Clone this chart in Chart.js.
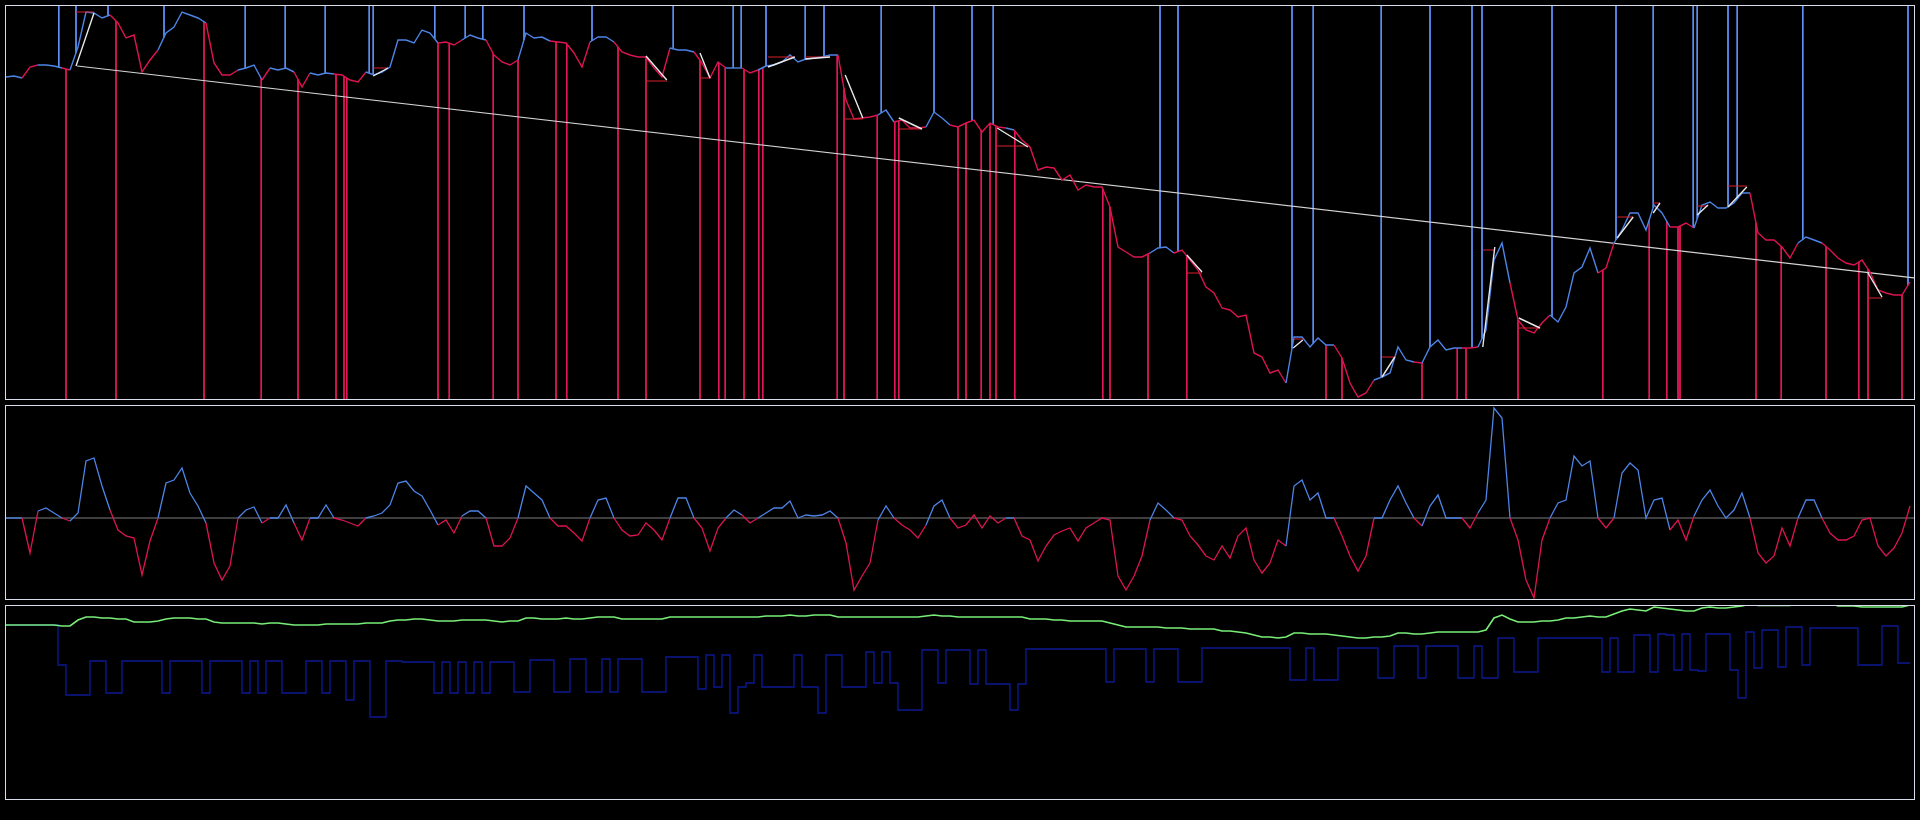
<!DOCTYPE html>
<html><head><meta charset="utf-8">
<script src="https://cdn.jsdelivr.net/npm/chart.js@4.4.0/dist/chart.umd.min.js"></script>
<style>
html,body{margin:0;padding:0;background:#000;width:1920px;height:820px;overflow:hidden;}
.panel{position:absolute;left:5px;width:1908px;border:1px solid #d6dcea;}
.panel canvas{display:block;}
</style></head><body>
<div class="panel" style="top:5px;height:393px"><canvas id="c1" width="1908" height="393"></canvas></div>
<div class="panel" style="top:405px;height:193px"><canvas id="c2" width="1908" height="193"></canvas></div>
<div class="panel" style="top:605px;height:193px"><canvas id="c3" width="1908" height="193"></canvas></div>
<script>
// ---- price (close) per bar ----
const price = [
1323,1324,1322,1333,1335,1335,1334,1332,1330,1353,
1388,1387,1382,1385,1377,1362,1365,1328,1340,1350,
1367,1373,1388,1385,1382,1377,1337,1325,1325,1330,
1332,1335,1320,1332,1330,1332,1328,1313,1327,1325,
1327,1326,1325,1320,1318,1328,1325,1328,1333,1360,
1360,1357,1370,1367,1357,1358,1355,1360,1365,1362,
1360,1345,1338,1335,1340,1367,1362,1363,1359,1358,
1357,1347,1333,1358,1363,1363,1358,1348,1345,1343,
1343,1332,1323,1352,1350,1350,1348,1337,1322,1338,
1332,1332,1332,1327,1330,1334,1335,1338,1345,1338,
1341,1342,1343,1345,1345,1300,1281,1282,1283,1285,
1290,1278,1280,1272,1272,1273,1288,1282,1275,1273,
1277,1280,1268,1277,1273,1272,1270,1260,1253,1230,
1233,1232,1220,1225,1210,1215,1213,1213,1193,1153,
1148,1143,1143,1147,1152,1153,1147,1150,1140,1130,
1113,1107,1092,1090,1083,1085,1047,1043,1027,1030,
1017,1063,1063,1053,1062,1055,1055,1042,1017,1003,
1007,1020,1023,1027,1053,1040,1038,1037,1053,1060,
1050,1052,1052,1052,1053,1070,1140,1157,1117,1080,
1070,1067,1077,1085,1078,1093,1127,1133,1152,1127,
1132,1157,1170,1187,1187,1170,1195,1187,1173,1173,
1177,1172,1195,1198,1192,1192,1197,1207,1207,1167,
1160,1160,1153,1142,1157,1163,1160,1157,1150,1142,
1137,1135,1140,1128,1110,1107,1105,1105,1118
];
// ---- oscillator ----
const osc = [
0,0,0,-35,7,10,5,0,-3,5,
57,60,32,8,-12,-18,-20,-57,-23,0,
35,38,50,25,12,-5,-45,-62,-48,0,
8,11,-5,0,0,13,-5,-22,0,0,
13,0,-2,-5,-8,0,2,5,13,35,
37,27,22,8,-7,-2,-15,2,7,7,
0,-28,-28,-20,0,32,25,18,0,-8,
-8,-15,-23,0,18,20,0,-12,-18,-17,
-5,-12,-22,0,20,20,0,-10,-33,-10,
0,8,3,-5,0,5,10,10,17,0,
3,2,3,7,0,-25,-72,-58,-45,-2,
12,0,-7,-12,-20,-7,12,18,0,-10,
-7,3,-10,2,-5,0,0,-18,-22,-43,
-28,-17,-13,-10,-23,-10,-5,0,-2,-58,
-72,-58,-38,-2,15,8,0,-2,-18,-27,
-38,-42,-28,-40,-18,-10,-42,-55,-45,-22,
-28,32,38,18,25,0,0,-18,-38,-53,
-38,0,0,18,32,15,0,-8,12,23,
0,0,0,-10,5,18,110,100,0,-22,
-62,-80,-22,0,15,18,62,52,57,0,
-10,0,45,55,48,0,18,20,-12,-2,
-22,2,18,28,12,0,8,25,0,-35,
-45,-38,-10,-28,0,18,18,0,-15,-22,
-22,-18,-2,0,-28,-38,-30,-15,12
];
// ---- equity curve (green) ----
const equity = [
175,175,175,175,175,175,175,174,174,180,
183,183,182,182,181,181,178,178,178,179,
181,182,182,182,181,181,178,177,177,177,
177,177,176,177,177,176,175,175,175,175,
176,176,176,176,176,177,177,177,179,180,
180,181,181,180,179,179,179,180,180,180,
180,179,178,179,179,182,182,181,181,181,
182,181,181,182,183,183,183,181,181,181,
181,181,181,183,183,183,183,183,183,183,
183,183,183,183,183,184,184,184,185,184,
184,185,185,185,183,183,183,183,183,183,
183,183,183,183,183,184,185,184,184,183,
183,183,183,183,183,183,183,183,181,181,
181,180,180,179,179,179,179,179,177,175,
173,173,173,173,173,172,172,172,171,171,
171,171,169,169,168,167,165,163,163,162,
163,167,167,166,166,166,165,164,163,162,
162,163,163,164,167,167,166,166,167,168,
168,168,168,168,168,170,182,185,181,178,
178,178,179,179,180,182,182,183,184,183,
183,186,189,191,190,189,193,192,191,190,
189,189,192,193,192,192,193,194,196,194.5,
194.5,194.5,194.5,194.5,197,197,197,197,197,194,
194,194,193,193,193,193,193,193,195
];
// ---- position / exposure (navy) ----
const position = [
175,175,175,175,175,175,175,135,105,105,
105,139,139,107,107,139,139,139,139,139,
107,139,139,139,139,107,139,139,139,139,
107,139,107,139,139,107,107,107,139,139,
107,139,139,100,139,139,83,83,139,139,
138,138,138,138,107,138,107,138,107,138,
107,138,138,138,108,108,140,140,140,108,
108,141,141,108,108,141,108,141,141,141,
108,108,108,143,143,143,143,111,145,113,
145,87,113,117,145,113,113,113,113,145,
113,113,87,145,145,113,113,113,148,117,
148,117,90,90,90,150,150,117,150,150,
150,116,150,116,116,116,90,116,151,151,
151,151,151,151,151,151,151,151,118,151,
151,151,151,118,151,151,151,118,118,118,
152,152,152,152,152,152,152,152,152,152,
152,120,120,152,120,120,120,152,152,152,
152,152,122,122,154,154,154,122,154,154,
154,154,122,122,154,122,122,162,162,128,
128,128,162,162,162,162,162,162,162,162,
128,162,128,128,165,165,128,166,165,130,
166,130,129,166,166,166,130,102,168,132,
170,170,133,173,173,135,172,172,172,172,
172,172,135,135,135,174,174,137,137
];
// ---- signal bars (bar index) ----
const buySignals = [6.6,8.75,12.75,19.75,29.9,34.9,39.9,45.4,45.9,53.6,57.4,59.6,64.75,73.25,83.4,90.9,91.9,95,99.9,102.25,109.4,116,120.75,123.4,144.25,146.5,160.75,163.4,171.9,178,183.25,184.5,193.25,201.25,205.9,210.9,211.4,215.25,216.4,224.6,237.75];
const sellSignals = [7.5,13.75,24.75,31.9,36.5,41.25,42.25,42.6,54,55.4,60.9,64,68.75,70.1,76.5,80,86.75,89.1,89.9,92.25,94.1,94.6,103.9,104.75,108.9,111.1,111.6,119,120,121.9,123,123.75,126.1,137.1,138,142.75,147.6,165,167,177,181.4,182.5,189,199.6,205.4,207.6,209,209.25,218.75,221.9,227.5,231.6,232.75,237];
// ---- trades ----
const tradeOpenIdx  = [8.75,45.9,80,86.75,95.25,99.9,104.9,111.6,123.9,147.6,160.9,172,184.6,189.1,201.4,205.9,211.4,215.25,232.75];
const tradeOpenPx   = [1334,1324,1344,1347,1333,1341,1325,1282,1272,1145,1052,1023,1053,1082,1162,1187,1185,1193,1127];
const tradeCloseIdx = [11.0,47.75,82.6,88,98.6,103,107.1,114.5,127.75,149.5,162.1,173.6,186.1,191.75,203.4,206.75,212.75,217.6,234.5];
const tradeClosePx  = [1387,1332,1320,1322,1343,1343,1282,1271,1253,1128,1060,1043,1153,1072,1183,1197,1195,1213,1103];
const tradeLevel    = [1388,1332,1319,1322,1343,1343,1281,1271,1254,1127,1061,1043,1150,1072,1183,1197,1194,1214,1102];
// ---- trend line ----
const trendIdx = [8.9, 238.5];
const trendPx  = [1334, 1122.2];

// ---- ranges ----
const X_MAX = 238.5;
const PRICE_MIN = 1001, PRICE_MAX = 1394;
const OSC_MIN = -81, OSC_MAX = 112;
const EQ_MIN = 1, EQ_MAX = 194;

const BLUE = '#4d84e6', RED = '#dc1450';
const VBLUE = '#5e93fb', VRED = '#e6185a';

const n = price.length;
function priceAt(t){
  const i = Math.max(0, Math.min(n-1, Math.floor(t)));
  const f = t - i;
  const j = Math.min(n-1, i+1);
  return price[i]*(1-f) + price[j]*f;
}
function stateColor(ctx){
  const a = osc[ctx.p0DataIndex] ?? 0, b = osc[ctx.p1DataIndex] ?? 0;
  return (a + b < 0) ? RED : BLUE;
}
const series = arr => arr.map((v,i)=>({x:i,y:v}));

const buyLines = [];
buySignals.forEach(s => { buyLines.push({x:s,y:PRICE_MAX},{x:s,y:priceAt(s)},{x:s,y:null}); });
const sellLines = [];
sellSignals.forEach(s => { sellLines.push({x:s,y:priceAt(s)},{x:s,y:PRICE_MIN},{x:s,y:null}); });
const tradeWhite = [], tradeRed = [];
tradeOpenIdx.forEach((s,k) => {
  tradeWhite.push({x:s,y:tradeOpenPx[k]},{x:tradeCloseIdx[k],y:tradeClosePx[k]},{x:s,y:null});
  tradeRed.push({x:s,y:tradeLevel[k]},{x:tradeCloseIdx[k],y:tradeLevel[k]},{x:s,y:null});
});

function baseOptions(ymin, ymax){
  return {
    responsive:false, animation:false, devicePixelRatio:1, events:[],
    layout:{padding:0},
    plugins:{legend:{display:false}, tooltip:{enabled:false}, title:{display:false}},
    elements:{point:{radius:0, hoverRadius:0}, line:{tension:0}},
    scales:{
      x:{type:'linear', display:false, min:0, max:X_MAX},
      y:{type:'linear', display:false, min:ymin, max:ymax}
    }
  };
}

new Chart(document.getElementById('c1'), {
  type:'line',
  data:{datasets:[
    {data:tradeWhite, borderColor:'#e8e8e8', borderWidth:1.4, order:0, spanGaps:false},
    {data:tradeRed, borderColor:'#d8202c', borderWidth:1.2, order:1, spanGaps:false},
    {data:series(price), borderColor:BLUE, borderWidth:1.4, order:2, segment:{borderColor:stateColor}},
    {data:trendIdx.map((x,k)=>({x, y:trendPx[k]})), borderColor:'#d4d4d4', borderWidth:1.2, order:3},
    {data:buyLines, borderColor:VBLUE, borderWidth:1, order:4, spanGaps:false},
    {data:sellLines, borderColor:VRED, borderWidth:1, order:5, spanGaps:false}
  ]},
  options:baseOptions(PRICE_MIN, PRICE_MAX)
});

new Chart(document.getElementById('c2'), {
  type:'line',
  data:{datasets:[
    {data:series(osc), borderColor:BLUE, borderWidth:1.3, order:0, segment:{borderColor:stateColor}},
    {data:[{x:0,y:0},{x:X_MAX,y:0}], borderColor:'#7c7c7c', borderWidth:1.2, order:1}
  ]},
  options:baseOptions(OSC_MIN, OSC_MAX)
});

new Chart(document.getElementById('c3'), {
  type:'line',
  data:{datasets:[
    {data:series(equity), borderColor:'#78ee78', borderWidth:1.6, order:0},
    {data:series(position), borderColor:'#0c1890', borderWidth:1.4, order:1, stepped:'middle'}
  ]},
  options:baseOptions(EQ_MIN, EQ_MAX)
});
</script>
</body></html>
